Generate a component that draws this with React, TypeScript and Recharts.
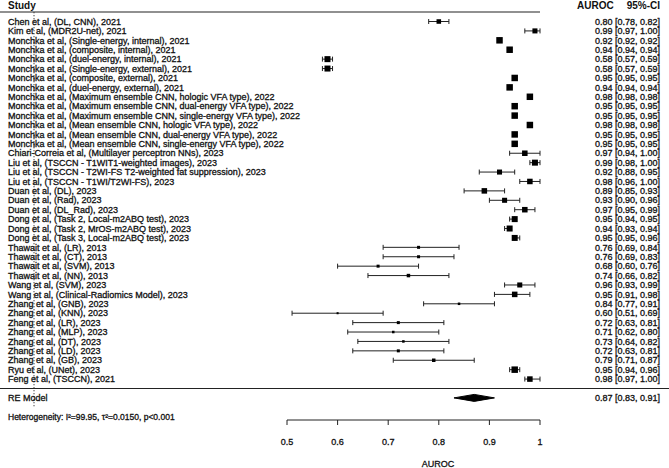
import React from "react";
import { ComposedChart, Scatter, Area, XAxis, YAxis, ErrorBar, ReferenceLine } from "recharts";

const studies = [
  "Chen et al, (DL, CNN), 2021",
  "Kim et al, (MDR2U-net), 2021",
  "Monchka et al, (Single-energy, internal), 2021",
  "Monchka et al, (composite, internal), 2021",
  "Monchka et al, (duel-energy, internal), 2021",
  "Monchka et al, (Single-energy, external), 2021",
  "Monchka et al, (composite, external), 2021",
  "Monchka et al, (duel-energy, external), 2021",
  "Monchka et al, (Maximum ensemble CNN, hologic VFA type), 2022",
  "Monchka et al, (Maximum ensemble CNN, dual-energy VFA type), 2022",
  "Monchka et al, (Maximum ensemble CNN, single-energy VFA type), 2022",
  "Monchka et al, (Mean ensemble CNN, hologic VFA type), 2022",
  "Monchka et al, (Mean ensemble CNN, dual-energy VFA type), 2022",
  "Monchka et al, (Mean ensemble CNN, single-energy VFA type), 2022",
  "Chiari-Correia et al, (Multilayer perceptron NNs), 2023",
  "Liu et al, (TSCCN - T1WIT1-weighted images), 2023",
  "Liu et al, (TSCCN - T2WI-FS T2-weighted fat suppression), 2023",
  "Liu et al, (TSCCN - T1WI/T2WI-FS), 2023",
  "Duan et al, (DL), 2023",
  "Duan et al, (Rad), 2023",
  "Duan et al, (DL_Rad), 2023",
  "Dong et al, (Task 2, Local-m2ABQ test), 2023",
  "Dong et al, (Task 2, MrOS-m2ABQ test), 2023",
  "Dong et al, (Task 3, Local-m2ABQ test), 2023",
  "Thawait et al, (LR), 2013",
  "Thawait et al, (CT), 2013",
  "Thawait et al, (SVM), 2013",
  "Thawait et al, (NN), 2013",
  "Wang et al, (SVM), 2023",
  "Wang et al, (Clinical-Radiomics Model), 2023",
  "Zhang et al, (GNB), 2023",
  "Zhang et al, (KNN), 2023",
  "Zhang et al, (LR), 2023",
  "Zhang et al, (MLP), 2023",
  "Zhang et al, (DT), 2023",
  "Zhang et al, (LD), 2023",
  "Zhang et al, (GB), 2023",
  "Ryu et al, (UNet), 2023",
  "Feng et al, (TSCCN), 2021",
];

const auroc = [0.80, 0.99, 0.92, 0.94, 0.58, 0.58, 0.95, 0.94, 0.98, 0.95, 0.95, 0.98, 0.95, 0.95, 0.97, 0.99, 0.92, 0.98, 0.89, 0.93, 0.97, 0.95, 0.94, 0.95, 0.76, 0.76, 0.68, 0.74, 0.96, 0.95, 0.84, 0.60, 0.72, 0.71, 0.73, 0.72, 0.79, 0.95, 0.98];
const ciLow = [0.78, 0.97, 0.92, 0.94, 0.57, 0.57, 0.95, 0.94, 0.98, 0.95, 0.95, 0.98, 0.95, 0.95, 0.94, 0.98, 0.88, 0.96, 0.85, 0.90, 0.95, 0.94, 0.93, 0.95, 0.69, 0.69, 0.60, 0.66, 0.93, 0.91, 0.77, 0.51, 0.63, 0.62, 0.64, 0.63, 0.71, 0.94, 0.97];
const ciHigh = [0.82, 1.00, 0.92, 0.94, 0.59, 0.59, 0.95, 0.94, 0.98, 0.95, 0.95, 0.98, 0.95, 0.95, 1.00, 1.00, 0.95, 1.00, 0.93, 0.96, 0.99, 0.95, 0.94, 0.96, 0.84, 0.83, 0.76, 0.82, 0.99, 0.98, 0.91, 0.69, 0.81, 0.80, 0.82, 0.81, 0.87, 0.96, 1.00];
const weights = [1.9, 2.1, 2.7, 2.7, 2.5, 2.5, 2.7, 2.7, 2.7, 2.7, 2.7, 2.7, 2.7, 2.7, 2.3, 2.5, 2.1, 2.3, 2.3, 2.1, 2.3, 2.5, 2.5, 2.5, 1.25, 1.25, 1.25, 1.45, 2.1, 2.3, 1.05, 0.85, 1.25, 1.05, 1.05, 1.25, 1.45, 2.7, 2.3];

const reLabel = "RE Model";
const reEst = 0.87;
const reLow = 0.83;
const reHigh = 0.91;
const heterogeneity = "Heterogeneity: I\u00b2=99.95, \u03c4\u00b2=0.0150, p<0.001";
const xTicks = [0.5, 0.6, 0.7, 0.8, 0.9, 1];
const xLabel = "AUROC";

const RE_ROW = studies.length + 1;
const DIAMOND_HALF = 0.37;
const FONT = "'Liberation Sans', Arial, Helvetica, sans-serif";
const INK = "#111";
const TSTROKE = { stroke: INK, strokeWidth: 0.3 };

const fmt = (v: number) => v.toFixed(2);

const rows = studies.map((s, i) => ({
  x: auroc[i],
  y: i,
  err: [auroc[i] - ciLow[i], ciHigh[i] - auroc[i]],
  w: weights[i],
}));

const diamond = [
  { x: reLow, d: [RE_ROW, RE_ROW] },
  { x: reEst, d: [RE_ROW - DIAMOND_HALF, RE_ROW + DIAMOND_HALF] },
  { x: reHigh, d: [RE_ROW, RE_ROW] },
];

const rowTicks = [...studies.map((_, i) => i), RE_ROW];

const leftText = (v: number) => (v === RE_ROW ? reLabel : studies[v]);
const rightText = (v: number) =>
  v === RE_ROW
    ? `${fmt(reEst)} [${fmt(reLow)}, ${fmt(reHigh)}]`
    : `${fmt(auroc[v])} [${fmt(ciLow[v])}, ${fmt(ciHigh[v])}]`;

const LeftTick = (props: any) => {
  const { y, payload } = props;
  return (
    <text x={8} y={y} dy={3.2} fontSize={9} fontFamily={FONT} fill={INK} {...TSTROKE} textAnchor="start">
      {leftText(payload.value)}
    </text>
  );
};

const RightTick = (props: any) => {
  const { y, payload } = props;
  return (
    <text x={660} y={y} dy={3.2} fontSize={9} fontFamily={FONT} fill={INK} {...TSTROKE} textAnchor="end">
      {rightText(payload.value)}
    </text>
  );
};

const XTick = (props: any) => {
  const { x, y, payload } = props;
  return (
    <text x={x} y={y} dy={6.4} fontSize={9} fontFamily={FONT} fill={INK} {...TSTROKE} textAnchor="middle">
      {String(payload.value)}
    </text>
  );
};

const Box = (props: any) => {
  const { cx, cy, payload } = props;
  const s = payload.w * 2.4;
  return <rect x={cx - s / 2} y={cy - s / 2} width={s} height={s} fill="#000" />;
};

const Nothing = () => <g />;

const Y_DOMAIN: [number, number] = [-1.0096, 42.349];

export default function App() {
  return (
    <div style={{ position: "absolute", left: 0, top: 0, width: 669, height: 468, background: "#fff" }}>
      <ComposedChart width={669} height={468} margin={{ top: 12, right: 0, bottom: 8, left: 0 }}>
        <XAxis
          dataKey="x"
          type="number"
          domain={[0.5, 1]}
          ticks={xTicks}
          allowDataOverflow
          height={40}
          tickSize={5}
          tickMargin={14}
          interval={0}
          stroke="#222"
          tick={<XTick />}
        />
        <YAxis
          yAxisId="l"
          dataKey="y"
          type="number"
          orientation="left"
          width={287}
          domain={Y_DOMAIN}
          reversed
          allowDataOverflow
          ticks={rowTicks}
          interval={0}
          axisLine={false}
          tickLine={false}
          tick={<LeftTick />}
        />
        <YAxis
          yAxisId="r"
          dataKey="y"
          type="number"
          orientation="right"
          width={129}
          domain={Y_DOMAIN}
          reversed
          allowDataOverflow
          ticks={rowTicks}
          interval={0}
          axisLine={false}
          tickLine={false}
          tick={<RightTick />}
        />
        <ReferenceLine
          yAxisId="l"
          segment={[{ x: 0, y: -1 }, { x: 0, y: 41 }]}
          ifOverflow="visible"
          stroke="#333"
          strokeWidth={1}
          strokeDasharray="1.2 1.8"
        />
        <Scatter yAxisId="r" data={rows} shape={<Nothing />} isAnimationActive={false} />
        <Area
          yAxisId="l"
          data={diamond}
          dataKey="d"
          type="linear"
          stroke="#000"
          strokeWidth={1}
          fill="#000"
          fillOpacity={1}
          dot={false}
          activeDot={false}
          isAnimationActive={false}
        />
        <Scatter yAxisId="l" data={rows} shape={<Box />} isAnimationActive={false}>
          <ErrorBar dataKey="err" direction="x" width={2.5} stroke="#222" strokeWidth={1} />
        </Scatter>
        <line x1={0} y1={12} x2={540} y2={12} stroke="#222" strokeWidth={1.2} />
        <line x1={0} y1={388.5} x2={669} y2={388.5} stroke="#222" strokeWidth={1.2} />
        <text x={8} y={8.5} fontSize={10} fontWeight="bold" fontFamily={FONT} fill={INK}>Study</text>
        <text x={577} y={8.5} fontSize={10} fontWeight="bold" fontFamily={FONT} fill={INK}>AUROC</text>
        <text x={660} y={8.5} fontSize={10} fontWeight="bold" fontFamily={FONT} fill={INK} textAnchor="end">95%-CI</text>
        <text x={8} y={419.5} fontSize={8.5} fontFamily={FONT} fill={INK} {...TSTROKE}>{heterogeneity}</text>
        <text x={438} y={466.5} fontSize={9} fontFamily={FONT} fill={INK} {...TSTROKE} textAnchor="middle">{xLabel}</text>
      </ComposedChart>
    </div>
  );
}
